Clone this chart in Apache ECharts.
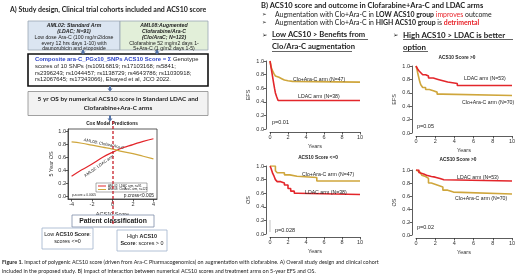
<!DOCTYPE html>
<html><head><meta charset="utf-8">
<script src="https://cdn.jsdelivr.net/npm/echarts@6/dist/echarts.min.js"></script>
<style>html,body{margin:0;padding:0;background:#fff}#main{width:520px;height:280px}</style>
</head><body><div id="main"></div>
<script>
var RED = '#e3262b', GOLD = '#cfa63c', INK = '#333';
var ARIAL = '"Liberation Sans", Arial, sans-serif';
var CAL = 'Lato, "Open Sans", sans-serif';

// Cox model predictions (5-year OS vs ACS10 score)
var coxScore = [-4, -3, -2, -1, 0, 1, 2, 3, 4];
var coxLdac = [0.31, 0.41, 0.50, 0.60, 0.68, 0.75, 0.80, 0.85, 0.89];
var coxClo = [0.84, 0.82, 0.79, 0.76, 0.73, 0.69, 0.66, 0.62, 0.58];
var coxTicks = [-4, -2, 0, 2, 4];

// Kaplan-Meier curves: times (years) and survival
var efsLowCloT = [0, 0.15, 0.3, 0.45, 0.6, 0.8, 1.0, 1.3, 1.6, 2.0, 2.5, 10];
var efsLowCloS = [1, 0.9, 0.85, 0.81, 0.78, 0.76, 0.74, 0.72, 0.71, 0.70, 0.69, 0.69];
var efsLowLdacT = [0, 0.1, 0.2, 0.3, 0.4, 0.5, 0.6, 0.75, 0.9, 10];
var efsLowLdacS = [1, 0.92, 0.84, 0.76, 0.68, 0.6, 0.53, 0.47, 0.42, 0.42];

var efsHighLdacT = [0, 0.15, 0.3, 0.5, 0.7, 1.0, 1.3, 1.8, 2.3, 2.8, 3.3, 4.3, 10];
var efsHighLdacS = [1, 0.96, 0.93, 0.9, 0.87, 0.85, 0.82, 0.8, 0.78, 0.76, 0.74, 0.71, 0.71];
var efsHighCloT = [0, 0.1, 0.2, 0.3, 0.4, 0.5, 0.7, 1.0, 1.4, 1.8, 2.2, 2.7, 10];
var efsHighCloS = [1, 0.95, 0.88, 0.82, 0.76, 0.72, 0.68, 0.65, 0.63, 0.61, 0.58, 0.56, 0.56];

var osLowCloT = [0, 0.6, 0.8, 1.6, 2.2, 3.0, 5.2, 10];
var osLowCloS = [1, 0.93, 0.90, 0.87, 0.85, 0.83, 0.78, 0.78];
var osLowLdacT = [0, 0.1, 0.2, 0.3, 0.45, 0.6, 0.8, 1.2, 1.6, 2.0, 2.3, 2.7, 3.0, 10];
var osLowLdacS = [1, 0.97, 0.93, 0.89, 0.85, 0.8, 0.77, 0.75, 0.72, 0.67, 0.63, 0.6, 0.58, 0.58];

var osHighLdacT = [0, 0.3, 0.5, 0.8, 1.1, 1.6, 2.0, 2.5, 2.9, 10];
var osHighLdacS = [1, 0.96, 0.94, 0.92, 0.9, 0.89, 0.87, 0.85, 0.83, 0.83];
var osHighCloT = [0, 0.2, 0.4, 0.6, 0.8, 1.0, 1.3, 1.6, 2.2, 2.8, 3.3, 3.9, 10];
var osHighCloS = [1, 0.97, 0.95, 0.92, 0.9, 0.87, 0.8, 0.77, 0.74, 0.69, 0.66, 0.63, 0.63];

function pairs(x, y) { return x.map(function (v, i) { return [v, y[i]]; }); }

var chart = echarts.init(document.getElementById('main'));

function kmX(g) {
  return {
    gridIndex: g, type: 'value', min: 0, max: 10, interval: 2, offset: 3,
    axisLine: { onZero: false, lineStyle: { color: INK, width: 0.8 } },
    axisTick: { length: 2.5, lineStyle: { color: INK, width: 0.8 } },
    axisLabel: { fontSize: 5.5, margin: 2, color: INK, fontFamily: ARIAL },
    splitLine: { show: false },
    name: 'Years', nameLocation: 'middle', nameGap: 11,
    nameTextStyle: { fontSize: 5.5, color: INK, fontFamily: ARIAL }
  };
}
function kmY(g, nm) {
  return {
    gridIndex: g, type: 'value', min: 0, max: 1, interval: 0.2, offset: 4,
    axisLine: { onZero: false, lineStyle: { color: INK, width: 0.8 } },
    axisTick: { length: 2.5, lineStyle: { color: INK, width: 0.8 } },
    axisLabel: { fontSize: 5.5, margin: 2, color: INK, fontFamily: ARIAL,
      formatter: function (v) { return v.toFixed(1); } },
    splitLine: { show: false },
    name: nm, nameLocation: 'middle', nameGap: 15,
    nameTextStyle: { fontSize: 5.5, color: INK, fontFamily: ARIAL }
  };
}
function km(g, t, s, color) {
  return {
    type: 'line', xAxisIndex: g, yAxisIndex: g, step: 'end', symbol: 'none',
    data: pairs(t, s), lineStyle: { color: color, width: 1.6 }, silent: true
  };
}

function txt(x, y, text, size, opt) {
  opt = opt || {};
  return {
    type: 'text', x: x, y: y, rotation: opt.rot || 0, z: 20,
    style: {
      text: text, fontSize: size, fontFamily: opt.font || ARIAL,
      fontWeight: opt.bold ? 'bold' : 'normal', fontStyle: opt.italic ? 'italic' : 'normal',
      fill: opt.color || '#222', align: opt.align || 'left', verticalAlign: 'middle',
      rich: opt.rich
    }
  };
}
function box(x, y, w, h, fill, stroke, lw) {
  return { type: 'rect', shape: { x: x, y: y, width: w, height: h }, z: 5,
    style: { fill: fill, stroke: stroke, lineWidth: lw || 0.8 } };
}
function arrow(cx, y0, y1) {
  return { type: 'polygon', z: 6, shape: { points: [
    [cx - 1, y0], [cx + 1, y0], [cx + 1, y1 - 3], [cx + 2.6, y1 - 3], [cx, y1], [cx - 2.6, y1 - 3], [cx - 1, y1 - 3]
  ] }, style: { fill: '#5574a8' } };
}
function hline(x1, x2, y, color, w) {
  return { type: 'line', z: 20, shape: { x1: x1, y1: y, x2: x2, y2: y }, style: { stroke: color || '#222', lineWidth: w || 0.7 } };
}

var BS = 6.9;
var bRich = {
  b: { fontWeight: 'bold', fontFamily: CAL, fontSize: BS, fill: '#222' },
  r: { fill: '#e8232a', fontFamily: CAL, fontSize: BS },
  rb: { fill: '#e8232a', fontWeight: 'bold', fontFamily: CAL, fontSize: BS }
};
var boldArial = { b: { fontWeight: 'bold', fontSize: 5.4, fontFamily: ARIAL } };

var graphic = [
  // panel A
  txt(10, 10, 'A) Study design, Clinical trial cohorts included and ACS10 score', 7, { font: CAL, bold: true }),
  box(28, 21, 92, 29, '#dbe5f1', '#9aa6b4'),
  box(120, 21, 88, 29, '#e2efd9', '#9aa6b4'),
  txt(74, 25.5, 'AML02: Standard Arm', 5.2, { bold: true, italic: true, align: 'center' }),
  txt(74, 31.5, '(LDAC; N=91)', 5.2, { bold: true, italic: true, align: 'center' }),
  txt(74, 37.5, 'Low dose Ara-C (100 mg/m2/dose', 5.2, { align: 'center' }),
  txt(74, 43.5, 'every 12 hrs days 1-10) with', 5.2, { align: 'center' }),
  txt(74, 48.5, 'daunorubicin and etoposide', 5.2, { align: 'center' }),
  txt(164, 25.5, 'AML08:Augmented', 5.2, { bold: true, italic: true, align: 'center' }),
  txt(164, 31.5, 'Clofarabine/Ara-C', 5.2, { bold: true, italic: true, align: 'center' }),
  txt(164, 37.5, '(Clo/AraC; N=122)', 5.2, { bold: true, italic: true, align: 'center' }),
  txt(164, 43.5, 'Clofarabine 52 mg/m2 days 1-', 5.2, { align: 'center' }),
  txt(164, 48.5, '5+Ara-C (1 g/m2 days 1-5)', 5.2, { align: 'center' }),
  arrow(83, 50, 54.5), arrow(157, 50, 54.5),
  box(28, 54, 180, 32, '#fff', '#111', 1.6),
  txt(35, 59, '{bl|Composite ara-C_PGx10_SNPs ACS10 Score = \u03A3} Genotype', 5.9,
    { rich: { bl: { fill: '#2f45c8', fontWeight: 'bold', fontSize: 5.9, fontFamily: ARIAL } } }),
  txt(35, 66, 'scores of 10 SNPs (rs10916819; rs17103168; rs5841;', 5.9),
  txt(35, 73, 'rs2396243; rs1044457; rs1138729; rs4643786; rs11030918;', 5.9),
  txt(35, 79.5, 'rs12067645; rs17343066), Elsayed et al, JCO 2022.', 5.9),
  arrow(110, 86, 91.5),
  box(28, 91.5, 180, 24, '#f2f2f2', '#8a8a8a'),
  txt(118, 98.5, '5 yr OS by numerical ACS10 score in Standard LDAC and', 6.4, { font: CAL, bold: true, align: 'center' }),
  txt(118, 108, 'Clofarabine+Ara-C arms', 6.4, { font: CAL, bold: true, align: 'center' }),
  arrow(110, 115.5, 121.5),
  txt(112, 123.5, 'Cox Model Predictions', 4.8, { bold: true, align: 'center' }),
  txt(104, 144, 'AML08: Clofara/Ara-C', 4.2, { rot: -0.2, align: 'center' }),
  txt(99, 166, 'AML02: LDAC arm', 4.2, { rot: 0.62, align: 'center' }),
  box(96, 183, 51, 9, '#fff', '#555', 0.5),
  hline(98, 106, 186, RED, 1), hline(98, 106, 189.5, GOLD, 1),
  txt(108, 186, 'AML02: LDAC arm, n=91', 3),
  txt(108, 189.5, 'AML08: ClofAraC arm, n=122', 3),
  txt(72, 195.5, 'p-score = 0.0005', 3.2),
  txt(154, 195.5, 'p.cross<0.005', 4.8, { align: 'right' }),
  box(72, 215, 82, 12, '#fff', '#7d8ea8'),
  txt(113, 221, 'Patient classification', 6.8, { bold: true, align: 'center' }),
  { type: 'line', z: 25, shape: { x1: 113, y1: 121, x2: 113, y2: 224 },
    style: { stroke: '#c8202a', lineWidth: 1.3, lineDash: [3, 2] } },
  box(42, 228, 51, 21, '#fff', '#9fb1cc'),
  txt(67.5, 234.5, 'Low {b|ACS10 Score}:', 5.4, { align: 'center', rich: boldArial }),
  txt(67.5, 242, 'scores <=0', 5.4, { align: 'center' }),
  box(117, 230, 50, 21, '#fff', '#9fb1cc'),
  txt(142, 236.5, 'High {b|ACS10}', 5.4, { align: 'center', rich: boldArial }),
  txt(142, 244, '{b|Score}: scores > 0', 5.4, { align: 'center', rich: boldArial }),

  // panel B headers
  txt(261, 6, 'B) ACS10 score and outcome in Clofarabine+Ara-C and LDAC arms', 7.5, { font: CAL, bold: true }),
  txt(262, 15, '\u27A2', 5.5, { font: '"DejaVu Sans", sans-serif' }),
  txt(275, 15, 'Augmentation with Clo+Ara-C in {b|LOW ACS10 group} {r|improves} outcome', BS, { font: CAL, rich: bRich }),
  txt(262, 23, '\u27A2', 5.5, { font: '"DejaVu Sans", sans-serif' }),
  txt(275, 23, 'Augmentation with Clo+Ara-C in {b|HIGH ACS10 group} is {rb|detrimental}', BS, { font: CAL, rich: bRich }),
  txt(262, 35, '\u27A2', 6.5, { font: '"DejaVu Sans", sans-serif' }),
  txt(272, 35, 'Low ACS10 > Benefits from', 7.6, { font: CAL, bold: true }),
  hline(272, 368, 39.5),
  txt(272, 47, 'Clo/Ara-C augmentation', 7.6, { font: CAL, bold: true }),
  hline(272, 352, 51.5),
  txt(393, 35, '\u27A2', 6.5, { font: '"DejaVu Sans", sans-serif' }),
  txt(403, 35, 'High ACS10 > LDAC is better', 7.9, { font: CAL, bold: true }),
  hline(403, 513, 39.5),
  txt(403, 47, 'option', 7.9, { font: CAL, bold: true }),
  hline(403, 428, 51.5),
  txt(457, 57.5, 'ACS10 Score >0', 4.8, { bold: true, align: 'center' }),
  txt(318, 157.5, 'ACS10 Score <=0', 4.8, { bold: true, align: 'center' }),
  txt(458, 160, 'ACS10 Score >0', 4.8, { bold: true, align: 'center' }),

  // KM labels
  txt(293, 79.5, 'Clo+Ara-C arm (N=47)', 5.2),
  txt(298, 96.5, 'LDAC arm (N=38)', 5.2),
  txt(272, 122, 'p=0.01', 5.5),
  txt(464, 79, 'LDAC arm (N=53)', 5.2),
  txt(462, 103, 'Clo+Ara-C arm (N=70)', 5.2),
  txt(417, 126, 'p=0.05', 5.5),
  txt(302, 175, 'Clo+Ara-C arm (N=47)', 5.2),
  txt(305, 192.5, 'LDAC arm (N=38)', 5.2),
  txt(275, 230, 'p=0.028', 5.5),
  { type: 'line', z: 20, shape: { x1: 270, y1: 220, x2: 270, y2: 232 }, style: { stroke: '#aaa', lineWidth: 0.7 } },
  txt(457, 177.5, 'LDAC arm (N=53)', 5.2),
  txt(455, 199, 'Clo+Ara-C arm (N=70)', 5.2),
  txt(417, 227.5, 'p=0.02', 5.5),

  // caption
  txt(2, 262, '{b|Figure 1.} Impact of polygenic ACS10 score (driven from Ara-C Pharmacogenomics) on augmentation with clofarabine. A) Overall study design and clinical cohort', 5.4,
    { font: CAL, rich: { b: { fontWeight: 'bold', fontFamily: CAL, fontSize: 5.4, fill: '#222' } } }),
  txt(2, 271, 'included in the proposed study. B) Impact of interaction between numerical ACS10 scores and treatment arms on 5-year EFS and OS.', 5.4, { font: CAL })
];

var option = {
  animation: false,
  grid: [
    { left: 68, top: 129, width: 89, height: 70, show: true, borderColor: INK, borderWidth: 0.8 },
    { left: 270, top: 61, width: 90, height: 68 },
    { left: 416, top: 66, width: 96, height: 67 },
    { left: 270, top: 166, width: 90, height: 68 },
    { left: 416, top: 170, width: 96, height: 65 }
  ],
  xAxis: [
    {
      gridIndex: 0, type: 'value', min: -4.35, max: 4.35,
      axisLine: { onZero: false, lineStyle: { color: INK, width: 0.8 } },
      axisTick: { customValues: coxTicks, length: 2.5, lineStyle: { color: INK, width: 0.8 } },
      axisLabel: { customValues: coxTicks, fontSize: 5.5, margin: 2, color: INK, fontFamily: ARIAL },
      splitLine: { show: false },
      name: 'ACS10 Score', nameLocation: 'middle', nameGap: 12,
      nameTextStyle: { fontSize: 5.5, color: INK, fontFamily: ARIAL }
    },
    kmX(1), kmX(2), kmX(3), kmX(4)
  ],
  yAxis: [
    {
      gridIndex: 0, type: 'value', min: -0.04, max: 1.04,
      axisLine: { onZero: false, lineStyle: { color: INK, width: 0.8 } },
      axisTick: { customValues: [0, 0.2, 0.4, 0.6, 0.8, 1], length: 2.5, lineStyle: { color: INK, width: 0.8 } },
      axisLabel: { customValues: [0, 0.2, 0.4, 0.6, 0.8, 1], fontSize: 5.5, margin: 2, color: INK, fontFamily: ARIAL,
        formatter: function (v) { return v.toFixed(1); } },
      splitLine: { show: false },
      name: '5 Year OS', nameLocation: 'middle', nameGap: 14,
      nameTextStyle: { fontSize: 5.5, color: INK, fontFamily: ARIAL }
    },
    kmY(1, 'EFS'), kmY(2, 'EFS'), kmY(3, 'OS'), kmY(4, 'OS')
  ],
  series: [
    { type: 'line', xAxisIndex: 0, yAxisIndex: 0, smooth: true, symbol: 'none',
      data: pairs(coxScore, coxLdac), lineStyle: { color: RED, width: 1.2 } },
    { type: 'line', xAxisIndex: 0, yAxisIndex: 0, smooth: true, symbol: 'none',
      data: pairs(coxScore, coxClo), lineStyle: { color: GOLD, width: 1.2 } },
    km(1, efsLowCloT, efsLowCloS, GOLD),
    km(1, efsLowLdacT, efsLowLdacS, RED),
    km(2, efsHighCloT, efsHighCloS, GOLD),
    km(2, efsHighLdacT, efsHighLdacS, RED),
    km(3, osLowCloT, osLowCloS, GOLD),
    km(3, osLowLdacT, osLowLdacS, RED),
    km(4, osHighCloT, osHighCloS, GOLD),
    km(4, osHighLdacT, osHighLdacS, RED)
  ],
  graphic: graphic
};
chart.setOption(option);
</script>
</body></html>
